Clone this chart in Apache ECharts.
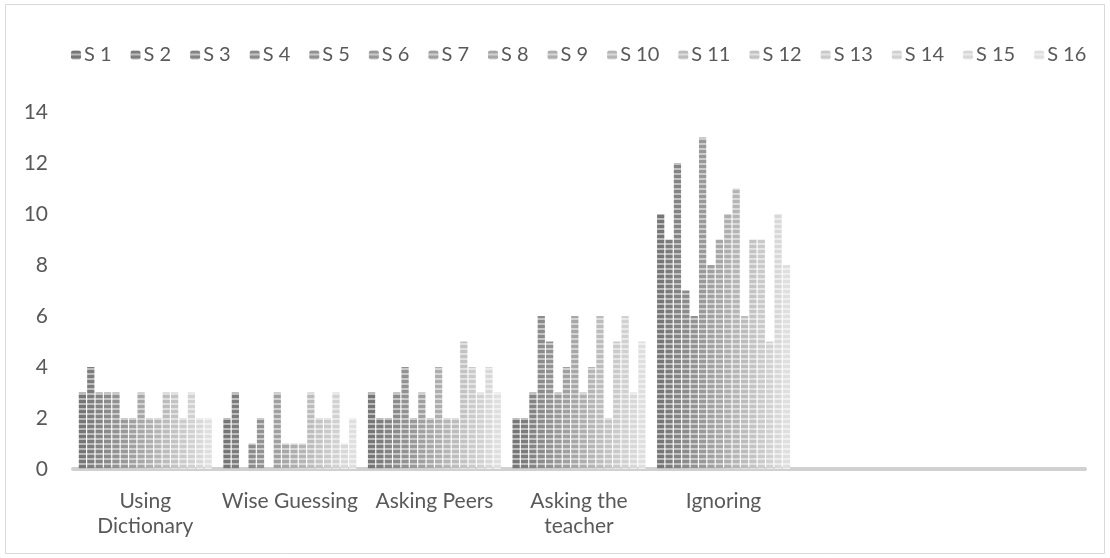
<!DOCTYPE html>
<html><head><meta charset="utf-8">
<script src="https://cdn.jsdelivr.net/npm/echarts@6/dist/echarts.min.js"></script>
<style>html,body{margin:0;padding:0;background:#fff}#c{width:1110px;height:558px}</style>
</head><body><div id="c"></div>
<script>
const categories = ['Using\nDictionary','Wise Guessing','Asking Peers','Asking the\nteacher','Ignoring','',''];
const seriesNames = ['S 1','S 2','S 3','S 4','S 5','S 6','S 7','S 8','S 9','S 10','S 11','S 12','S 13','S 14','S 15','S 16'];
const s1  = [3,2,3,2,10];
const s2  = [4,3,2,2,9];
const s3  = [3,0,2,3,12];
const s4  = [3,1,3,6,7];
const s5  = [3,2,4,5,6];
const s6  = [2,0,2,3,13];
const s7  = [2,3,3,4,8];
const s8  = [3,1,2,6,9];
const s9  = [2,1,4,3,10];
const s10 = [2,1,2,4,11];
const s11 = [3,3,2,6,6];
const s12 = [3,2,5,2,9];
const s13 = [2,2,4,5,9];
const s14 = [3,3,3,6,5];
const s15 = [2,1,4,3,10];
const s16 = [2,2,3,5,8];
const seriesValues = [s1,s2,s3,s4,s5,s6,s7,s8,s9,s10,s11,s12,s13,s14,s15,s16];
const yTicks = [0,2,4,6,8,10,12,14];

const palette = ['#767676','#7d7d7d','#848484','#8b8b8b','#929292','#999999','#a0a0a0','#a7a7a7',
                 '#aeaeae','#b5b5b5','#bcbcbc','#c3c3c3','#cacaca','#d1d1d1','#d8d8d8','#dfdfdf'];

function lighten(hex, f){
  const n = parseInt(hex.slice(1),16);
  const r=(n>>16)&255,g=(n>>8)&255,b=n&255;
  const m = v => Math.round(v+(255-v)*f);
  return 'rgb('+m(r)+','+m(g)+','+m(b)+')';
}
function pattern(hex){
  const cv = document.createElement('canvas');
  cv.width = 8; cv.height = 5;
  const ctx = cv.getContext('2d');
  ctx.fillStyle = '#ffffff'; ctx.fillRect(0,0,8,5);
  ctx.fillStyle = hex; ctx.fillRect(0,0,8,3);
  ctx.fillStyle = lighten(hex,0.5); ctx.fillRect(0,3,8,2);
  return {image: cv, repeat: 'repeat'};
}

const chart = echarts.init(document.getElementById('c'), null, {renderer:'canvas'});
const font = 'Lato, "Open Sans", sans-serif';
chart.setOption({
  animation:false,
  backgroundColor:'#ffffff',
  graphic:[{type:'rect', shape:{x:5.5,y:4.5,width:1099,height:549}, style:{fill:'none', stroke:'#d9d9d9', lineWidth:1}, silent:true}],
  legend:{
    top:40, left:66, itemWidth:10, itemHeight:9, itemGap:19,
    textStyle:{color:'#595959', fontSize:20, fontFamily:font, padding:[0,0,0,-2]},
    data: seriesNames
  },
  grid:{left:73, right:25, top:112, bottom:89, containLabel:false},
  xAxis:{
    type:'category', data:categories,
    axisLine:{show:true, lineStyle:{color:'#d0d0d0', width:4}},
    axisTick:{show:false},
    axisLabel:{interval:0, color:'#595959', fontSize:21, fontFamily:font, margin:20, lineHeight:25}
  },
  yAxis:{
    type:'value', min:yTicks[0], max:yTicks[yTicks.length-1], interval:2,
    axisLine:{show:false}, axisTick:{show:false}, splitLine:{show:false},
    axisLabel:{color:'#595959', fontSize:21, fontFamily:font, margin:25}
  },
  series: seriesValues.map((v,i)=>({
    name: seriesNames[i], type:'bar', data:v,
    barGap:'16%', barCategoryGap:'8%',
    itemStyle:{color: pattern(palette[i])}
  }))
});
</script></body></html>
